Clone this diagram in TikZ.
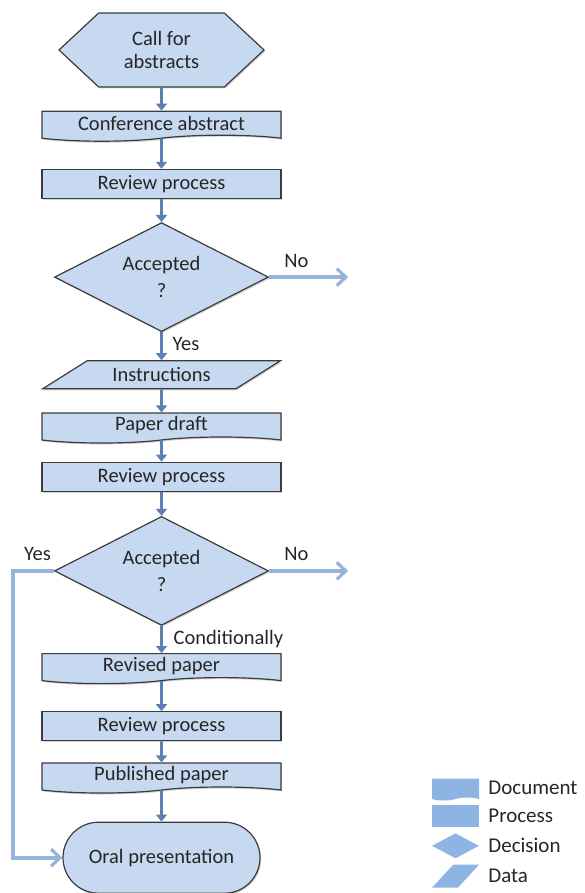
\documentclass[tikz,border=0pt]{standalone}
\usepackage{fontspec}
\setmainfont{Carlito}
\usetikzlibrary{shapes.geometric}
\usetikzlibrary{shapes.symbols}
\usetikzlibrary{shapes.misc}
\usetikzlibrary{arrows.meta}
\usetikzlibrary{positioning}
\usetikzlibrary{shadows}

\definecolor{boxfill}{HTML}{C6D9F1}
\definecolor{boxline}{HTML}{3C3C3C}
\definecolor{flowblue}{HTML}{5B80B2}
\definecolor{branchblue}{HTML}{95B3DB}
\definecolor{legendblue}{HTML}{8DB4E2}
\definecolor{txtgrey}{HTML}{262626}

\tikzset{
  box/.style={draw=boxline, line width=1.2pt, fill=boxfill, text=txtgrey,
    font=\fontsize{20.5}{22.5}\selectfont, align=center, inner sep=2pt,
    drop shadow={shadow xshift=1.2pt, shadow yshift=-1.5pt, opacity=0.35}},
  startbox/.style={box, signal, signal to=west and east, signal pointer angle=86,
    minimum width=205pt, minimum height=74pt},
  docbox/.style={box, tape, tape bend top=none, tape bend height=6pt,
    minimum width=239pt, minimum height=30pt},
  procbox/.style={box, rectangle, minimum width=239pt, minimum height=29pt},
  decbox/.style={box, diamond, aspect=1.96, inner sep=0pt,
    minimum width=214pt, minimum height=109pt},
  databox/.style={box, trapezium, trapezium left angle=31, trapezium right angle=149,
    trapezium stretches, minimum width=238pt, minimum height=28pt},
  endbox/.style={box, rounded rectangle, minimum width=201pt, minimum height=71pt},
  flow/.style={draw=flowblue, line width=2.6pt, -{Triangle[length=7pt,width=11pt]}},
  branch/.style={draw=branchblue, line width=3.8pt,
    -{Straight Barb[length=9pt,width=17pt,line width=3.2pt]}},
  lbl/.style={text=txtgrey, font=\fontsize{20.5}{22.5}\selectfont, inner sep=0pt, anchor=base west},
  legshape/.style={fill=legendblue, draw=none, minimum width=47pt, minimum height=22pt, inner sep=1pt},
  legtext/.style={text=txtgrey, font=\fontsize{21}{23}\selectfont, inner sep=0pt, anchor=west},
}

\begin{document}
\begin{tikzpicture}[x=1pt, y=1pt]
\useasboundingbox (0,0) rectangle (584,-893);
\node[startbox] (call) at (161.5,-50) {Call for\\abstracts};
\node[docbox, below=23pt of call] (abstract) {Conference abstract};
\node[procbox, below=33pt of abstract] (review1) {Review process};
\node[decbox, below=23pt of review1] (accept1) {Accepted\\[4pt]?};
\node[databox, below=28pt of accept1] (instructions) {Instructions};
\node[docbox, below=23pt of instructions] (draft) {Paper draft};
\node[procbox, below=24pt of draft] (review2) {Review process};
\node[decbox, below=24pt of review2] (accept2) {Accepted\\[4pt]?};
\node[docbox, below=27pt of accept2] (revised) {Revised paper};
\node[procbox, below=33pt of revised] (review3) {Review process};
\node[docbox, below=21pt of review3] (published) {Published paper};
\node[endbox, below=34pt of published] (oral) {Oral presentation};

\draw[flow] (call) -- (abstract);
\draw[flow] (abstract) -- (review1);
\draw[flow] (review1) -- (accept1);
\draw[flow] (accept1) -- (instructions);
\draw[flow] (instructions) -- (draft);
\draw[flow] (draft) -- (review2);
\draw[flow] (review2) -- (accept2);
\draw[flow] (accept2) -- (revised);
\draw[flow] (revised) -- (review3);
\draw[flow] (review3) -- (published);
\draw[flow] (published) -- (oral);

\coordinate[right=79pt of accept1.east] (exit1);
\coordinate[right=79pt of accept2.east] (exit2);
\coordinate[left=41pt of accept2.west] (yescorner);
\draw[branch] (accept1.east) -- (exit1);
\draw[branch] (accept2.east) -- (exit2);
\draw[branch] (accept2.west) -- (yescorner) |- (oral.west);

\node[lbl] (no1) at ([xshift=15pt, yshift=10pt]accept1.east) {No};
\node[lbl] (yes1) at ([xshift=11pt, yshift=-18pt]accept1.south) {Yes};
\node[lbl] (no2) at ([xshift=15pt, yshift=10pt]accept2.east) {No};
\node[lbl] (yes2) at ([xshift=-30pt, yshift=10pt]accept2.west) {Yes};
\node[lbl] (cond) at ([xshift=12pt, yshift=-18pt]accept2.south) {Conditionally};

% legend
\node[legshape, tape, tape bend top=none, tape bend height=3pt] (legdoc) at (455.5,-788) {};
\node[legshape, rectangle, below=7pt of legdoc] (legproc) {};
\node[legshape, diamond, aspect=1.88, minimum height=25pt, below=6pt of legproc] (legdec) {};
\node[legshape, trapezium, trapezium left angle=57, trapezium right angle=123,
  trapezium stretches, minimum height=23pt, below=6pt of legdec] (legdata) {\strut};
\node[legtext] (legdoctext) at ([xshift=9pt]legdoc.east) {Document};
\node[legtext] (legproctext) at (legdoctext.west |- legproc) {Process};
\node[legtext] (legdectext) at (legdoctext.west |- legdec) {Decision};
\node[legtext] (legdatatext) at (legdoctext.west |- legdata) {Data};
\end{tikzpicture}
\end{document}
